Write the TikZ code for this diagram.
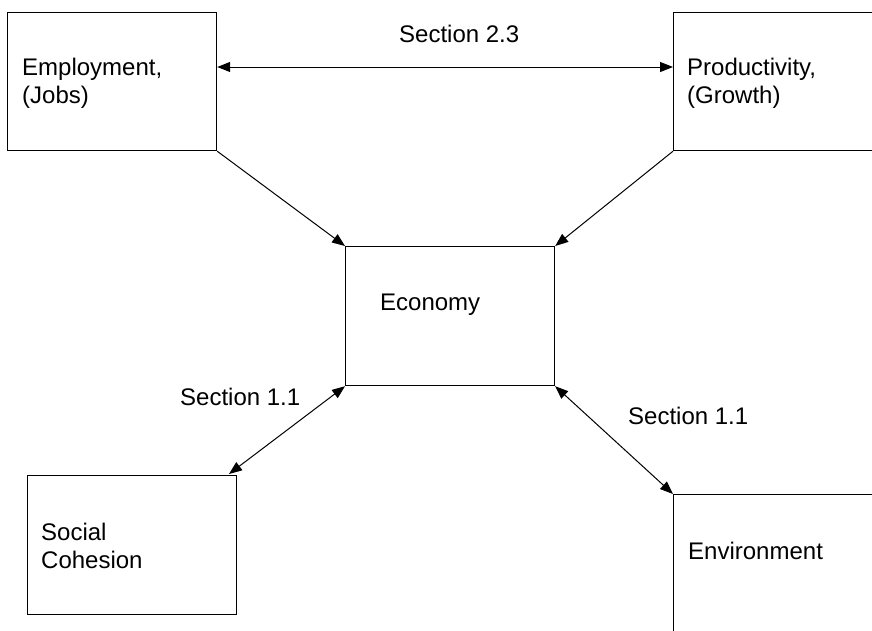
\documentclass[tikz,border=0pt]{standalone}
\usepackage{fontspec}
\setmainfont{Liberation Sans}
\usetikzlibrary{arrows.meta}
\begin{document}
\begin{tikzpicture}[x=1pt,y=-1pt,
  box/.style={draw, line width=1.2pt, inner sep=0pt, anchor=north west},
  lbl/.style={anchor=base west, inner sep=0pt, align=left,
    font=\fontsize{24}{28}\selectfont},
  link/.style={line width=1pt, -{Triangle[length=13pt,width=10pt]}},
  duallink/.style={line width=1pt, {Triangle[length=13pt,width=10pt]}-{Triangle[length=13pt,width=10pt]}}]
\useasboundingbox (0,0) rectangle (872,630);
\clip (0,0) rectangle (872,630);

% boxes
\node[box, minimum width=209pt, minimum height=138pt] (emp) at (7,12) {};
\node[box, minimum width=220pt, minimum height=138pt] (prod) at (673,12) {};
\node[box, minimum width=209pt, minimum height=139pt] (eco) at (345,246) {};
\node[box, minimum width=209pt, minimum height=139pt] (soc) at (27,475) {};
\node[box, minimum width=220pt, minimum height=160pt] (env) at (673,494) {};

% box texts (base anchor sits on the last line)
\node[lbl] (empT) at (22,103) {Employment,\\(Jobs)};
\node[lbl] (prodT) at (687,103) {Productivity,\\(Growth)};
\node[lbl] (ecoT) at (380,310) {Economy};
\node[lbl] (socT) at (41,568) {Social\\Cohesion};
\node[lbl] (envT) at (688,559) {Environment};

% connector labels
\node[lbl] (s23) at (399,42) {Section 2.3};
\node[lbl] (s11a) at (180,405) {Section 1.1};
\node[lbl] (s11b) at (628,424) {Section 1.1};

% connectors
\coordinate (socTip) at (229,474);
\draw[duallink] (emp.east |- 0,67) -- (prod.west |- 0,67);
\draw[link] (emp.south east) -- (eco.north west);
\draw[link] (prod.south west) -- (eco.north east);
\draw[duallink] (eco.south west) -- (socTip);
\draw[duallink] (eco.south east) -- (env.north west);
\end{tikzpicture}
\end{document}
